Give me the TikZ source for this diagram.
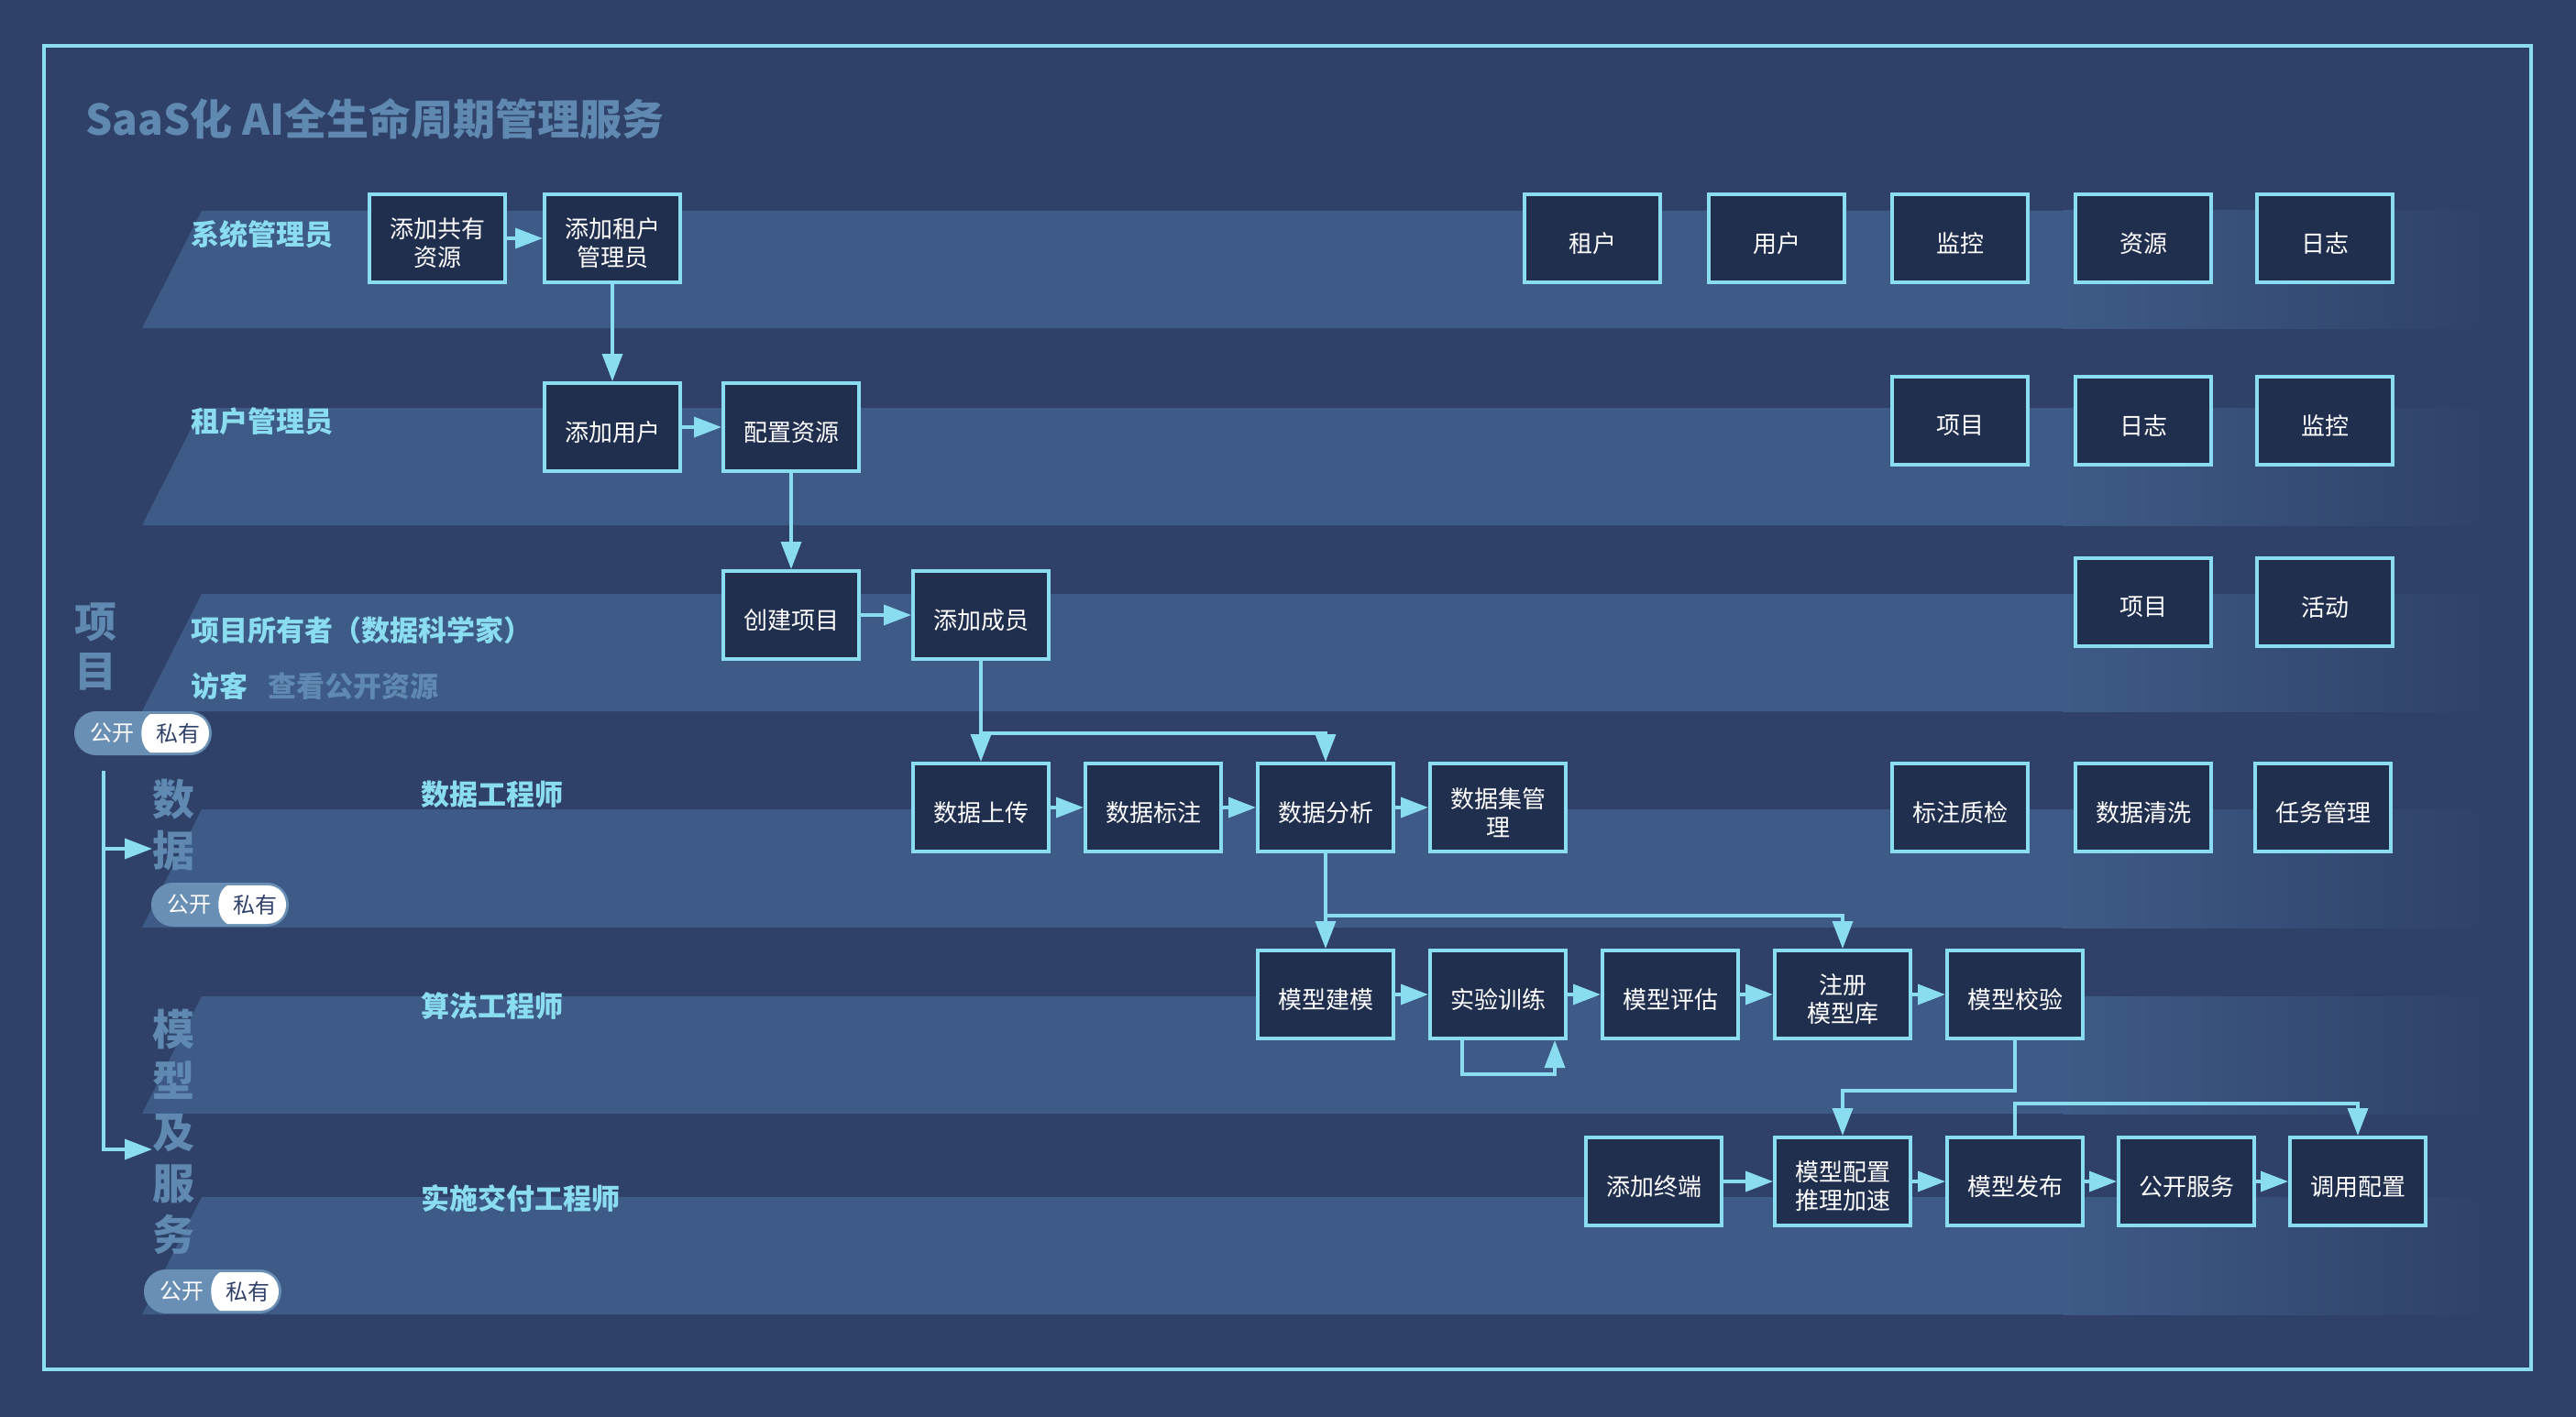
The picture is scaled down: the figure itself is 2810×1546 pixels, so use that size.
\documentclass[tikz,border=0pt]{standalone}
\usepackage{fontspec}
\setmainfont{Noto Sans CJK SC}
\usetikzlibrary{arrows.meta,calc}
\definecolor{bgc}{HTML}{2F4169}
\definecolor{bandc}{HTML}{3D5B86}
\definecolor{boxc}{HTML}{212F4F}
\definecolor{cyanc}{HTML}{8ADCF0}
\definecolor{mutedc}{HTML}{5F89B0}
\definecolor{togc}{HTML}{6A8FB5}
\newcommand\fsz[2]{\fontsize{#1}{#2}\selectfont}
\newcommand\lane[2]{%
  \fill[bandc] (220,#1) -- (2252,#1) -- (2252,#2) -- (155,#2) -- cycle;
  \shade[left color=bandc, right color=bgc] (2250,#1) rectangle (2720,#2);}
\newcommand\pubpriv[3]{%
  \begin{scope}[shift={(#2,#3)}]
    \fill[togc, rounded corners=23.9pt] (-75,-24) rectangle (75,24);
    \fill[white] (8,-21) -- (51,-21) .. controls (79,-21) and (79,21) .. (51,21) -- (8,21) .. controls (-5,14) and (-5,-14) .. (8,-21) -- cycle;
    \node[text=white, font=\fsz{24}{28}] (#1pub) at (-34,0) {公开};
    \node[text=bgc, font=\fsz{24}{28}] (#1pri) at (38,0) {私有};
  \end{scope}}
\tikzset{
  flowbox/.style={draw=cyanc, line width=4pt, fill=boxc, minimum width=148pt, minimum height=96pt, inner sep=0pt, text=white, font=\fsz{26}{31},
    execute at begin node={\begin{minipage}[c][90pt][c]{140pt}\centering\vspace*{11pt}},
    execute at end node={\end{minipage}}},
  arr/.style={draw=cyanc, line width=3.5pt, -{Triangle[length=30pt,width=22pt]}},
  lanelabel/.style={anchor=west, text=cyanc, font=\fsz{31}{36}\bfseries, inner sep=0pt},
  grouplabel/.style={text=mutedc, align=center, font=\fsz{46}{56}\bfseries, inner sep=0pt},
}
\begin{document}
\begin{tikzpicture}[x=1pt,y=-1pt]
\useasboundingbox (0,0) rectangle (2810,1546);
\fill[bgc] (0,0) rectangle (2810,1546);
% lanes
\lane{230}{358}
\lane{445}{573}
\lane{648}{776}
\lane{883}{1012}
\lane{1087}{1215}
\lane{1306}{1434}
% frame
\draw[cyanc, line width=4pt] (48,50) rectangle (2761,1494);
% title
\node[anchor=west, text=mutedc, font=\fsz{46}{52}\bfseries, inner sep=0pt] (title) at (93,130) {SaaS化 AI全生命周期管理服务};
% lane labels
\node[lanelabel] (l1) at (208,256) {系统管理员};
\node[lanelabel] (l2) at (208,460) {租户管理员};
\node[lanelabel] (l3) at (208,688) {项目所有者（数据科学家）};
\node[lanelabel] (l4) at (208,749) {访客};
\node[lanelabel, text=mutedc] (l4b) at (292,749) {查看公开资源};
\node[lanelabel] (l5) at (459,867) {数据工程师};
\node[lanelabel] (l6) at (459,1098) {算法工程师};
\node[lanelabel] (l7) at (459,1307) {实施交付工程师};
% group labels
\node[grouplabel, font=\fsz{46}{54}\bfseries] (gp) at (104,705) {项\\目};
\node[grouplabel] (gd) at (189,900) {数\\据};
\node[grouplabel] (gm) at (189,1235) {模\\型\\及\\服\\务};
% toggles
\pubpriv{ta}{156}{800}
\pubpriv{tb}{240}{987}
\pubpriv{tc}{232}{1409}
% left bracket arrows
\coordinate (vtop) at (113,841);
\coordinate (vd) at (113,926);
\coordinate (td) at (166,926);
\coordinate (tm) at (166,1254);
\draw[arr] (vtop) |- (tm);
\draw[arr] (vd) -- (td);
% main flow boxes
\node[flowbox] (a1) at (477,260) {添加共有\\资源};
\node[flowbox] (a2) at (668,260) {添加租户\\管理员};
\node[flowbox] (b1) at (668,466) {添加用户};
\node[flowbox] (b2) at (863,466) {配置资源};
\node[flowbox] (c1) at (863,671) {创建项目};
\node[flowbox] (c2) at (1070,671) {添加成员};
\node[flowbox] (d1) at (1070,881) {数据上传};
\node[flowbox] (d2) at (1258,881) {数据标注};
\node[flowbox] (d3) at (1446,881) {数据分析};
\node[flowbox] (d4) at (1634,881) {数据集管\\理};
\node[flowbox] (e1) at (1446,1085) {模型建模};
\node[flowbox] (e2) at (1634,1085) {实验训练};
\node[flowbox] (e3) at (1822,1085) {模型评估};
\node[flowbox] (e4) at (2010,1085) {注册\\模型库};
\node[flowbox] (e5) at (2198,1085) {模型校验};
\node[flowbox] (f1) at (1804,1289) {添加终端};
\node[flowbox] (f2) at (2010,1289) {模型配置\\推理加速};
\node[flowbox] (f3) at (2198,1289) {模型发布};
\node[flowbox] (f4) at (2385,1289) {公开服务};
\node[flowbox] (f5) at (2572,1289) {调用配置};
% right side boxes
\node[flowbox] (r11) at (1737,260) {租户};
\node[flowbox] (r12) at (1938,260) {用户};
\node[flowbox] (r13) at (2138,260) {监控};
\node[flowbox] (r14) at (2338,260) {资源};
\node[flowbox] (r15) at (2536,260) {日志};
\node[flowbox] (r21) at (2138,459) {项目};
\node[flowbox] (r22) at (2338,459) {日志};
\node[flowbox] (r23) at (2536,459) {监控};
\node[flowbox] (r31) at (2338,657) {项目};
\node[flowbox] (r32) at (2536,657) {活动};
\node[flowbox] (r41) at (2138,881) {标注质检};
\node[flowbox] (r42) at (2338,881) {数据清洗};
\node[flowbox] (r43) at (2534,881) {任务管理};
% connectors
\draw[arr] (a1.east) -- (a2.west);
\draw[arr] (a2.south) -- (b1.north);
\draw[arr] (b1.east) -- (b2.west);
\draw[arr] (b2.south) -- (c1.north);
\draw[arr] (c1.east) -- (c2.west);
\draw[arr] (c2.south) -- (d1.north);
\draw[arr] ([yshift=-79pt]c2.south) -| (d3.north);
\draw[arr] (d1.east) -- (d2.west);
\draw[arr] (d2.east) -- (d3.west);
\draw[arr] (d3.east) -- (d4.west);
\draw[arr] (d3.south) -- (e1.north);
\draw[arr] ([yshift=-68pt]d3.south) -| (e4.north);
\draw[arr] (e1.east) -- (e2.west);
\draw[arr] (e2.east) -- (e3.west);
\draw[arr] (e3.east) -- (e4.west);
\draw[arr] (e4.east) -- (e5.west);
\draw[arr] ([xshift=-39pt]e2.south) -- ++(0,37) -| ([xshift=62pt]e2.south);
\draw[arr] (e5.south) -- ++(0,55) -| (f2.north);
\draw[arr] (f1.east) -- (f2.west);
\draw[arr] (f2.east) -- (f3.west);
\draw[arr] (f3.east) -- (f4.west);
\draw[arr] (f4.east) -- (f5.west);
\draw[arr] (f3.north) -- ++(0,-35) -| (f5.north);
\end{tikzpicture}
\end{document}
